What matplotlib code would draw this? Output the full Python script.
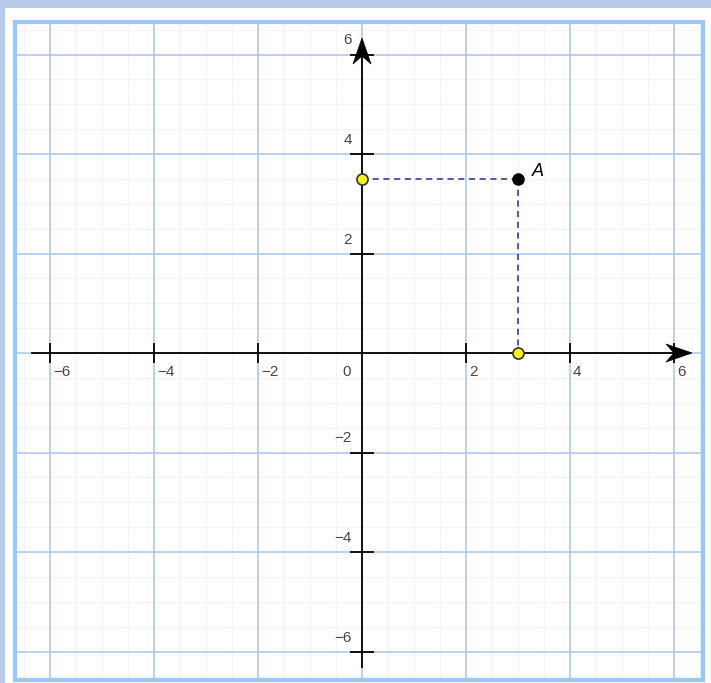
import matplotlib.pyplot as plt
from matplotlib.patches import Rectangle, Polygon

# donnees
point_A = (3, 3.5)
ticks = [-6, -4, -2, 2, 4, 6]
major_lines = [-6, -4, -2, 0, 2, 4, 6]
tick_labels = ['\u22126', '\u22124', '\u22122', '2', '4', '6']

# geometrie en pixels (figure 711x683)
W, H = 711, 683
x0, y0 = 362, 353          # origine en pixels
sx, sy = 52.0, 49.75       # pixels par unite

def px(x):
    return (x - x0) / sx

def py(y):
    return (y0 - y) / sy

fig = plt.figure(figsize=(W / 100, H / 100), dpi=100)
fig.patch.set_facecolor('#b8cbea')
ax = fig.add_axes([0, 0, 1, 1])
ax.set_xlim(px(0), px(W))
ax.set_ylim(py(H), py(0))
ax.axis('off')

# panneau blanc
ax.add_patch(Rectangle((px(5), py(H)), px(W) - px(5), py(8) - py(H),
                       facecolor='white', edgecolor='none', zorder=0))

# limites du cadre
left, right = px(15), px(703)
top, bottom = py(22), py(680)

# grille fine
k = -13
while k <= 13:
    v = k * 0.5
    if left < v < right:
        ax.plot([v, v], [bottom, top], color='#f5f2f2', lw=0.8, zorder=1)
    if bottom < v < top:
        ax.plot([left, right], [v, v], color='#f5f2f2', lw=0.8, zorder=1)
    k += 1

# grille principale
for v in major_lines:
    ax.plot([v, v], [bottom, top], color='#aac7ea', lw=1.1, zorder=2)
    ax.plot([left, right], [v, v], color='#aac7ea', lw=1.1, zorder=2)

# cadre
ax.add_patch(Rectangle((left, bottom), right - left, top - bottom,
                       facecolor='none', edgecolor='#9cc7f0', lw=3.0, zorder=3))

# axes
ax.plot([px(32), px(680)], [0, 0], color='black', lw=1.3, zorder=4)
ax.plot([0, 0], [py(667), py(50)], color='black', lw=1.3, zorder=4)

# fleches (pointe type "stealth")
tip, back, notch, hw = 692, 666, 674, 9
ax.add_patch(Polygon([(px(tip), 0), (px(back), hw / sy), (px(notch), 0),
                      (px(back), -hw / sy)], closed=True,
                     facecolor='black', edgecolor='black', lw=0.5, zorder=5))
tip, back, notch = 38, 64, 56
ax.add_patch(Polygon([(0, py(tip)), (hw / sx, py(back)), (0, py(notch)),
                      (-hw / sx, py(back))], closed=True,
                     facecolor='black', edgecolor='black', lw=0.5, zorder=5))

# graduations
ax.plot(ticks, [0] * len(ticks), ls='none', marker='|', ms=15, mew=1.3,
        color='black', zorder=5)
ax.plot([0] * len(ticks), ticks, ls='none', marker='_', ms=17, mew=1.3,
        color='black', zorder=5)

lab = dict(fontsize=11, color='#444444', family='Liberation Sans', zorder=6)
for t, s in zip(ticks, tick_labels):
    ax.text(t + 3 / sx, -19 / sy, s, ha='left', va='center', **lab)
    ax.text(-10 / sx, t + 14 / sy, s, ha='right', va='center', **lab)
ax.text(-15 / sx, -19 / sy, '0', ha='center', va='center', **lab)

# point A et projections
xa, ya = point_A
ax.plot([0, xa], [ya, ya], ls=(0, (4, 3)), color='#1c2f8c', lw=1.1, zorder=6)
ax.plot([xa, xa], [ya, 0], ls=(0, (4, 3)), color='#1c2f8c', lw=1.1, zorder=6)
ax.plot([0, xa], [ya, 0], ls='none', marker='o', ms=8, mfc='#f4f01e',
        mec='#333333', mew=1.2, zorder=7)
ax.plot([xa], [ya], ls='none', marker='o', ms=8, mfc='black', mec='black',
        zorder=7)
ax.text(xa + 20 / sx, ya + 7 / sy, 'A', fontsize=13, style='italic',
        family='Liberation Sans', ha='center', va='center', zorder=7)

plt.savefig('out.png', dpi=100, facecolor=fig.get_facecolor())
